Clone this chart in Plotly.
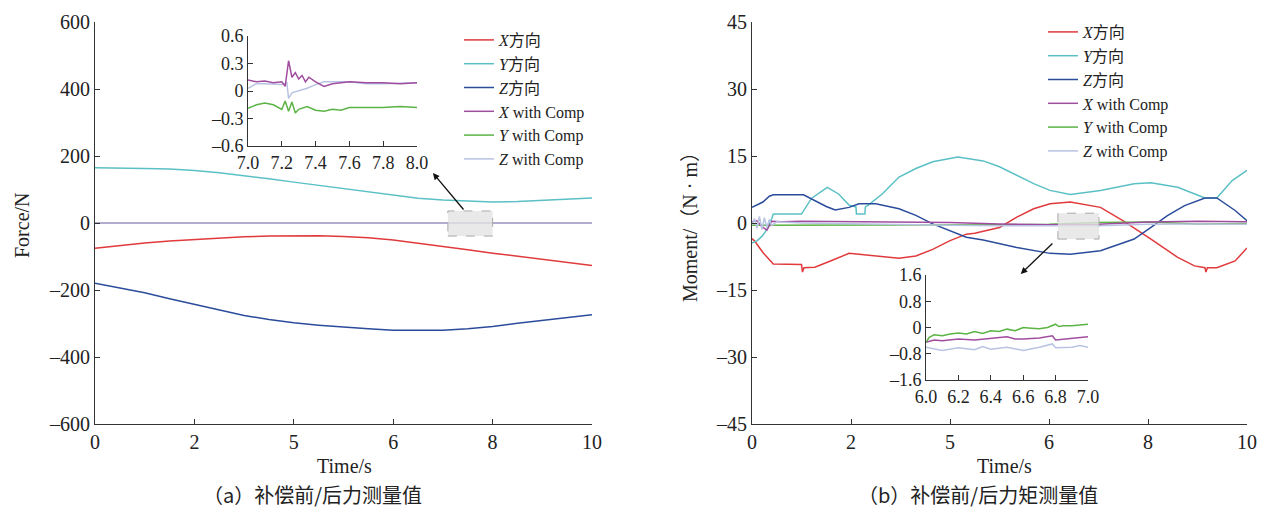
import plotly.graph_objects as go

W, H = 1266, 509

# ---------------- (a) force data ----------------
FT = [0, 0.5, 1, 1.5, 2, 2.5, 3, 3.5, 4, 4.5, 5, 5.5, 6, 6.5, 7, 7.5, 8, 8.5, 9, 9.5, 10]
FX = [-75, -67, -60, -54, -49, -45, -41, -39, -38, -38, -40, -44, -51, -60, -70, -80, -90, -99, -108, -118, -127]
FY = [165, 165, 163, 161, 157, 150, 142, 132, 122, 112, 102, 93, 82, 74, 69, 65, 63, 64, 67, 71, 75]
FZ = [-180, -193, -208, -226, -243, -261, -276, -288, -298, -305, -311, -316, -320, -321, -320, -316, -309, -299, -290, -282, -274]
FT_COMP = [0, 2, 4, 6, 8, 10]
FX_COMP = [0.1, 0.1, 0.1, 0.1, 0.1, 0.1]
FY_COMP = [-0.18, -0.18, -0.18, -0.18, -0.18, -0.18]
FZ_COMP = [0.08, 0.08, 0.08, 0.08, 0.08, 0.08]

# inset (a): 7.0 - 8.0 s
IA_TX = [7.0, 7.05, 7.1, 7.15, 7.2, 7.22, 7.24, 7.26, 7.28, 7.3, 7.32, 7.34, 7.36, 7.4, 7.45, 7.5, 7.6, 7.7, 7.8, 7.9, 8.0]
IA_X = [0.12, 0.1, 0.11, 0.09, 0.1, 0.05, 0.33, 0.15, 0.2, 0.13, 0.17, 0.1, 0.15, 0.1, 0.05, 0.08, 0.1, 0.09, 0.09, 0.08, 0.09]
IA_TY = [7.0, 7.05, 7.1, 7.15, 7.2, 7.22, 7.24, 7.26, 7.28, 7.3, 7.35, 7.4, 7.45, 7.5, 7.55, 7.6, 7.7, 7.8, 7.9, 8.0]
IA_Y = [-0.19, -0.15, -0.13, -0.15, -0.2, -0.11, -0.22, -0.12, -0.24, -0.2, -0.17, -0.21, -0.22, -0.2, -0.21, -0.18, -0.18, -0.18, -0.17, -0.18]
IA_TZ = [7.0, 7.05, 7.1, 7.2, 7.23, 7.24, 7.26, 7.3, 7.35, 7.4, 7.45, 7.5, 7.6, 7.7, 7.8, 8.0]
IA_Z = [0.03, 0.08, 0.08, 0.07, 0.09, -0.08, -0.02, 0.0, 0.03, 0.07, 0.1, 0.1, 0.1, 0.08, 0.08, 0.09]

# ---------------- (b) moment data ----------------
MX_T = [0, 0.05, 0.22, 0.43, 1.0, 1.02, 1.05, 1.27, 1.61, 1.96, 2.16, 2.63, 2.97, 3.31, 3.65, 3.99, 4.33, 4.5, 4.7,
        5.0, 5.35, 5.69, 6.02, 6.43, 7.04, 7.5, 8.06, 8.6, 8.94, 9.15, 9.17, 9.2, 9.39, 9.76, 10]
MX = [-3.5, -4.0, -6.6, -9.2, -9.3, -11.0, -10.0, -9.9, -8.4, -6.8, -7.0, -7.6, -7.9, -7.4, -5.9, -4.0, -2.5, -2.3, -1.8,
      -1.0, 1.3, 3.2, 4.3, 4.7, 3.5, 0.5, -3.6, -7.7, -9.6, -10.0, -11.0, -10.0, -10.0, -8.5, -5.6]
MY_T = [0, 0.1, 0.2, 0.3, 0.4, 0.43, 1.0, 1.2, 1.52, 1.75, 1.96, 2.1, 2.11, 2.28, 2.29, 2.35, 2.63, 2.97, 3.31, 3.65,
        4.16, 4.67, 5.0, 5.35, 5.69, 6.02, 6.43, 7.04, 7.72, 8.06, 8.6, 9.15, 9.39, 9.7, 10]
MY = [-4.5, -4.0, -3.0, -1.5, 1.0, 2.0, 2.0, 5.5, 8.0, 6.5, 4.0, 3.6, 2.0, 2.0, 3.6, 4.0, 6.5, 10.3, 12.2, 13.7,
      14.8, 13.9, 12.6, 10.7, 8.8, 7.3, 6.4, 7.3, 8.8, 9.0, 8.0, 5.6, 5.6, 9.5, 11.8]
MZ_T = [0, 0.1, 0.22, 0.35, 0.43, 1.04, 1.27, 1.5, 1.68, 1.96, 2.16, 2.5, 2.97, 3.31, 3.65, 4.0, 4.33, 4.67,
        5.35, 6.02, 6.43, 7.04, 7.72, 8.06, 8.4, 8.74, 9.15, 9.39, 9.76, 10]
MZ = [3.5, 4.0, 4.7, 6.0, 6.3, 6.3, 5.0, 3.7, 2.9, 3.5, 4.3, 4.3, 3.2, 1.7, -0.2, -1.8, -3.2, -3.8,
      -5.5, -6.8, -7.0, -6.2, -3.6, -1.0, 1.7, 3.9, 5.6, 5.6, 2.8, 0.5]
MXC_T = [0, 0.1, 0.2, 0.3, 0.4, 0.6, 1, 2, 3, 4, 5, 6, 7, 8, 9, 10]
MXC = [0.3, 0.5, -0.8, -1.6, 0.4, 0.3, 0.4, 0.3, 0.2, 0.1, -0.2, -0.4, -0.3, 0.2, 0.4, 0.3]
MYC_T = [0, 1, 2, 3, 4, 5, 6, 7, 8, 9, 10]
MYC = [-0.5, -0.5, -0.5, -0.5, -0.5, -0.4, -0.3, 0.1, 0.2, -0.2, -0.1]
MZC_T = [0, 0.05, 0.1, 0.15, 0.2, 0.25, 0.3, 0.35, 0.4, 0.5, 1, 2, 3, 4, 5, 6, 7, 8, 9, 10]
MZC = [-0.5, 1.0, -1.2, 1.5, -1.5, 1.2, -1.0, 0.8, -0.6, 0.3, 0.0, -0.2, -0.3, -0.5, -0.6, -0.65, -0.6, -0.3, -0.2, -0.3]

# inset (b): 6.0 - 7.0 s
IB_TY = [6.0, 6.02, 6.05, 6.1, 6.15, 6.2, 6.25, 6.3, 6.35, 6.4, 6.45, 6.5, 6.55, 6.6, 6.65, 6.7, 6.75, 6.8, 6.82, 6.85, 6.9, 6.95, 7.0]
IB_Y = [-0.45, -0.3, -0.22, -0.25, -0.2, -0.17, -0.2, -0.12, -0.18, -0.1, -0.12, -0.05, -0.1, 0.0, -0.02, -0.04, 0.0, 0.1, 0.03, 0.05, 0.05, 0.08, 0.1]
IB_TX = [6.0, 6.05, 6.1, 6.2, 6.3, 6.4, 6.5, 6.55, 6.6, 6.7, 6.78, 6.8, 6.9, 7.0]
IB_X = [-0.45, -0.38, -0.4, -0.35, -0.38, -0.33, -0.28, -0.35, -0.35, -0.32, -0.25, -0.38, -0.33, -0.28]
IB_TZ = [6.0, 6.05, 6.1, 6.2, 6.3, 6.35, 6.4, 6.5, 6.6, 6.7, 6.78, 6.8, 6.9, 6.95, 7.0]
IB_Z = [-0.6, -0.65, -0.7, -0.62, -0.68, -0.58, -0.66, -0.6, -0.7, -0.6, -0.5, -0.62, -0.6, -0.55, -0.6]

# ticks
MAIN_XT = [0, 2, 4, 6, 8, 10]
MAIN_XL = ["0", "2", "5", "6", "8", "10"]
FORCE_YT = [-600, -400, -200, 0, 200, 400, 600]
FORCE_YL = ["–600", "–400", "–200", "0", "200", "400", "600"]
MOM_YT = [-45, -30, -15, 0, 15, 30, 45]
MOM_YL = ["–45", "–30", "–15", "0", "15", "30", "45"]
IA_XT = [7.0, 7.2, 7.4, 7.6, 7.8, 8.0]
IA_XL = ["7.0", "7.2", "7.4", "7.6", "7.8", "8.0"]
IA_YT = [-0.6, -0.3, 0, 0.3, 0.6]
IA_YL = ["–0.6", "–0.3", "0", "0.3", "0.6"]
IB_XT = [6.0, 6.2, 6.4, 6.6, 6.8, 7.0]
IB_XL = ["6.0", "6.2", "6.4", "6.6", "6.8", "7.0"]
IB_YT = [-1.6, -0.8, 0, 0.8, 1.6]
IB_YL = ["–1.6", "–0.8", "0", "0.8", "1.6"]

NAMES = ["<i>X</i>方向", "<i>Y</i>方向", "<i>Z</i>方向",
         "<i>X</i> with Comp", "<i>Y</i> with Comp", "<i>Z</i> with Comp"]
COLORS = ["#e03a3c", "#5bc0c5", "#2b4c9b", "#a04d9f", "#5cb346", "#b9c3e3"]

FONT = '"Times New Roman", "Liberation Serif", Times, "Noto Sans CJK SC", serif'
CJK = '"Noto Sans CJK SC", "Liberation Serif", serif'

fig = go.Figure()

def add(x, y, i, xa, ya, legend="legend", show=False, width=1.5):
    fig.add_trace(go.Scatter(
        x=x, y=y, mode="lines", name=NAMES[i],
        line=dict(color=COLORS[i], width=width),
        xaxis=xa, yaxis=ya, showlegend=show, legend=legend,
        legendrank=100 + i))

# (a) main
add(FT_COMP, FY_COMP, 4, "x", "y", "legend", True)
add(FT_COMP, FX_COMP, 3, "x", "y", "legend", True)
add(FT, FX, 0, "x", "y", "legend", True)
add(FT, FY, 1, "x", "y", "legend", True)
add(FT, FZ, 2, "x", "y", "legend", True)
add(FT_COMP, FZ_COMP, 5, "x", "y", "legend", True)

# (b) main
add(MX_T, MX, 0, "x2", "y2", "legend2", True)
add(MY_T, MY, 1, "x2", "y2", "legend2", True)
add(MZ_T, MZ, 2, "x2", "y2", "legend2", True)
add(MYC_T, MYC, 4, "x2", "y2", "legend2", True)
add(MXC_T, MXC, 3, "x2", "y2", "legend2", True)
add(MZC_T, MZC, 5, "x2", "y2", "legend2", True)

# insets
add(IA_TZ, IA_Z, 5, "x3", "y3")
add(IA_TX, IA_X, 3, "x3", "y3")
add(IA_TY, IA_Y, 4, "x3", "y3")
add(IB_TZ, IB_Z, 5, "x4", "y4")
add(IB_TX, IB_X, 3, "x4", "y4")
add(IB_TY, IB_Y, 4, "x4", "y4")

def px(v):
    return v / W

def py(v):
    return 1 - v / H

def ax_style(size):
    return dict(showline=True, linecolor="#333333", linewidth=1, ticks="inside",
                ticklen=5, tickcolor="#333333", showgrid=False, zeroline=False,
                tickmode="array", automargin=False, fixedrange=True,
                tickfont=dict(family=FONT, size=size, color="#222222"))

fig.update_layout(
    width=W, height=H, margin=dict(l=0, r=0, t=0, b=0, autoexpand=False),
    paper_bgcolor="white", plot_bgcolor="white",
    font=dict(family=FONT, size=19, color="#222222"),
    xaxis=dict(domain=[px(95), px(592)], range=[0, 10], anchor="y",
               tickvals=MAIN_XT, ticktext=MAIN_XL, **ax_style(20)),
    yaxis=dict(domain=[py(424), py(22)], range=[-600, 600], anchor="x",
               tickvals=FORCE_YT, ticktext=FORCE_YL, **ax_style(20)),
    xaxis2=dict(domain=[px(752), px(1247)], range=[0, 10], anchor="y2",
                tickvals=MAIN_XT, ticktext=MAIN_XL, **ax_style(20)),
    yaxis2=dict(domain=[py(424), py(22)], range=[-45, 45], anchor="x2",
                tickvals=MOM_YT, ticktext=MOM_YL, **ax_style(20)),
    xaxis3=dict(domain=[px(248), px(417)], range=[7, 8], anchor="y3",
                tickvals=IA_XT, ticktext=IA_XL, **ax_style(18)),
    yaxis3=dict(domain=[py(146), py(36)], range=[-0.6, 0.6], anchor="x3",
                tickvals=IA_YT, ticktext=IA_YL, **ax_style(18)),
    xaxis4=dict(domain=[px(926), px(1088)], range=[6, 7], anchor="y4",
                tickvals=IB_XT, ticktext=IB_XL, **ax_style(18)),
    yaxis4=dict(domain=[py(380), py(275)], range=[-1.6, 1.6], anchor="x4",
                tickvals=IB_YT, ticktext=IB_YL, **ax_style(18)),
    legend=dict(x=px(459), y=py(23), xanchor="left", yanchor="top",
                bgcolor="rgba(0,0,0,0)", font=dict(family=FONT, size=16),
                itemwidth=30, tracegroupgap=0, traceorder="normal"),
    legend2=dict(x=px(1043), y=py(15), xanchor="left", yanchor="top",
                 bgcolor="rgba(0,0,0,0)", font=dict(family=FONT, size=16),
                 itemwidth=30, tracegroupgap=0, traceorder="normal"),
)

# zoom rectangles
fig.add_shape(type="rect", xref="x", yref="y", x0=7.1, x1=8.0, y0=-39, y1=36,
              line=dict(color="#aaaaaa", width=1, dash="dash"),
              fillcolor="rgba(226,228,226,0.8)", layer="above")
fig.add_shape(type="rect", xref="x2", yref="y2", x0=6.18, x1=7.01, y0=-3.6, y1=2.2,
              line=dict(color="#aaaaaa", width=1, dash="dash"),
              fillcolor="rgba(226,228,226,0.8)", layer="above")

# arrows
fig.add_annotation(x=6.80, y=149, ax=7.44, ay=35.8, xref="x", yref="y", axref="x", ayref="y",
                   text="", showarrow=True, arrowhead=2, arrowsize=1, arrowwidth=1.3,
                   arrowcolor="#111111")
fig.add_annotation(x=5.43, y=-11.4, ax=6.10, ay=-4.25, xref="x2", yref="y2", axref="x2", ayref="y2",
                   text="", showarrow=True, arrowhead=2, arrowsize=1, arrowwidth=1.3,
                   arrowcolor="#111111")

# titles & captions
def note(text, x, y, angle=0, size=20, family=FONT):
    fig.add_annotation(text=text, x=px(x), y=py(y), xref="paper", yref="paper",
                       showarrow=False, textangle=angle, xanchor="center", yanchor="middle",
                       font=dict(family=family, size=size, color="#222222"))

note("Force/N", 22, 225, -90)
note("Moment/（N · m）", 690, 222, -90)
note("Time/s", 344, 466)
note("Time/s", 1004, 466)
note("（a）补偿前/后力测量值", 312, 494, size=20, family=CJK)
note("（b）补偿前/后力矩测量值", 978, 494, size=20, family=CJK)

fig.write_html("out.html", config={"displayModeBar": False, "staticPlot": True})

# remove the default page margin so the figure sits at the window's top-left corner
with open("out.html", "r", encoding="utf-8") as f:
    html = f.read()
html = html.replace("<head>", "<head><style>html,body{margin:0;padding:0;overflow:hidden;}</style>", 1)
with open("out.html", "w", encoding="utf-8") as f:
    f.write(html)
